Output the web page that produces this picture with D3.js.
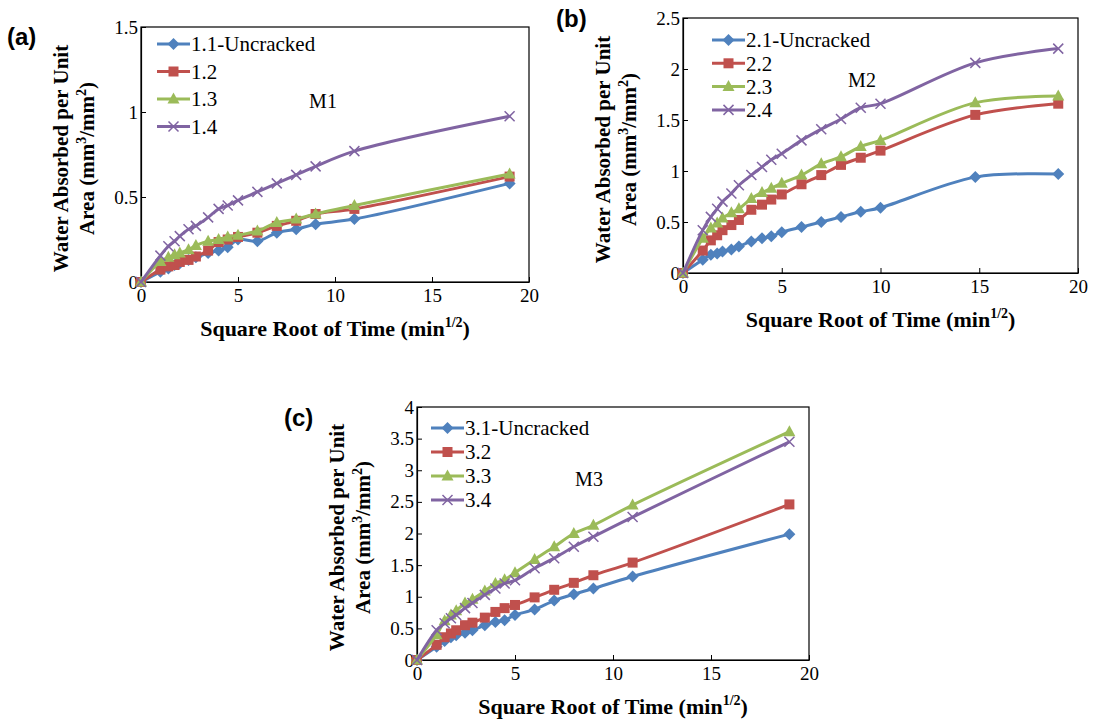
<!DOCTYPE html>
<html><head><meta charset="utf-8">
<script src="https://cdn.jsdelivr.net/npm/d3@7"></script>
<style>
body{margin:0;background:#fff;}
svg{display:block;}
</style></head>
<body>
<svg id="chart" width="1099" height="724"></svg>
<script>
// ---------- data ----------
const xA = [0,1,1.41,1.73,2,2.45,2.83,3.46,4,4.47,5,6,7,8,9,11,19];
const xB = [0,1,1.41,1.73,2,2.45,2.83,3.46,4,4.47,5,6,7,8,9,10,14.8,19];
const xC = [0,1,1.41,1.73,2,2.45,2.83,3.46,4,4.47,5,6,7,8,9,11,19];

const namesA = ["1.1-Uncracked","1.2","1.3","1.4"];
const namesB = ["2.1-Uncracked","2.2","2.3","2.4"];
const namesC = ["3.1-Uncracked","3.2","3.3","3.4"];

const a1 = [0,0.06,0.08,0.10,0.11,0.13,0.145,0.17,0.185,0.205,0.25,0.24,0.29,0.31,0.34,0.37,0.58];
const a2 = [0,0.073,0.092,0.10,0.118,0.13,0.15,0.185,0.235,0.25,0.265,0.29,0.33,0.36,0.40,0.43,0.62];
const a3 = [0,0.12,0.145,0.16,0.17,0.19,0.215,0.24,0.25,0.265,0.275,0.30,0.35,0.37,0.40,0.45,0.635];
const a4 = [0,0.155,0.21,0.24,0.27,0.31,0.33,0.38,0.43,0.45,0.48,0.53,0.58,0.63,0.68,0.77,0.975];

const b1 = [0,0.13,0.18,0.19,0.21,0.23,0.26,0.31,0.34,0.36,0.40,0.45,0.50,0.55,0.60,0.64,0.94,0.97];
const b2 = [0,0.22,0.32,0.37,0.42,0.47,0.52,0.62,0.67,0.72,0.77,0.87,0.96,1.06,1.13,1.20,1.55,1.66];
const b3 = [0,0.34,0.44,0.49,0.54,0.59,0.63,0.73,0.79,0.83,0.88,0.96,1.07,1.14,1.24,1.30,1.67,1.735];
const b4 = [0,0.42,0.55,0.63,0.70,0.78,0.86,0.96,1.04,1.11,1.17,1.30,1.41,1.51,1.62,1.66,2.06,2.20];

const c1 = [0,0.21,0.30,0.36,0.39,0.43,0.47,0.55,0.60,0.63,0.71,0.80,0.94,1.04,1.13,1.32,1.99];
const c2 = [0,0.24,0.36,0.42,0.47,0.55,0.59,0.67,0.76,0.82,0.87,0.99,1.11,1.22,1.34,1.54,2.46];
const c3 = [0,0.40,0.62,0.71,0.78,0.90,0.96,1.09,1.21,1.27,1.38,1.59,1.79,2.00,2.13,2.45,3.61];
const c4 = [0,0.47,0.58,0.66,0.71,0.82,0.90,1.03,1.13,1.21,1.26,1.45,1.61,1.79,1.95,2.26,3.45];

const xTicks = [0,5,10,15,20];
const yTicksA = [0,0.5,1,1.5];
const yTicksB = [0,0.5,1,1.5,2,2.5];
const yTicksC = [0,0.5,1,1.5,2,2.5,3,3.5,4];

const colors = ["#4F81BD","#C0504D","#9BBB59","#8064A2"];
const markers = ["diamond","square","triangle","cross"];

// ---------- drawing ----------
const svg = d3.select("#chart");
const SERIF = "'Liberation Serif','Times New Roman',serif";
const SANS = "'Liberation Sans',Arial,sans-serif";

function drawMarker(g, type, x, y, color){
  if(type==="diamond"){
    g.append("path").attr("d",`M${x},${y-6}L${x+6},${y}L${x},${y+6}L${x-6},${y}Z`).attr("fill",color);
  } else if(type==="square"){
    g.append("rect").attr("x",x-5).attr("y",y-5).attr("width",10).attr("height",10).attr("fill",color);
  } else if(type==="triangle"){
    g.append("path").attr("d",`M${x},${y-6.5}L${x+6},${y+4.5}L${x-6},${y+4.5}Z`).attr("fill",color);
  } else {
    g.append("path").attr("d",`M${x-5},${y-5}L${x+5},${y+5}M${x-5},${y+5}L${x+5},${y-5}`)
      .attr("stroke",color).attr("stroke-width",1.5).attr("fill","none");
  }
}

function panel(cfg){
  const g = svg.append("g");
  const x = d3.scaleLinear().domain([0,20]).range([cfg.l, cfg.r]);
  const y = d3.scaleLinear().domain([0,cfg.ymax]).range([cfg.b, cfg.t]);

  // frame
  g.append("rect").attr("x",cfg.l).attr("y",cfg.t).attr("width",cfg.r-cfg.l).attr("height",cfg.b-cfg.t)
    .attr("fill","none").attr("stroke","#000").attr("stroke-width",1.2);

  const xa = g.append("g").attr("transform",`translate(0,${cfg.b})`)
    .call(d3.axisBottom(x).tickValues(xTicks).tickSizeInner(-5).tickSizeOuter(0).tickPadding(6).tickFormat(d3.format("d")));
  const ya = g.append("g").attr("transform",`translate(${cfg.l},0)`)
    .call(d3.axisLeft(y).tickValues(cfg.yticks).tickSizeInner(-5).tickSizeOuter(0).tickPadding(3).tickFormat(d=>String(d)));
  [xa,ya].forEach(a=>{
    a.select(".domain").attr("stroke","#000").attr("stroke-width",1.2);
    a.selectAll(".tick line").attr("stroke","#000");
    a.selectAll(".tick text").attr("font-family",SERIF).attr("font-size",19).attr("fill","#000");
  });
  xa.selectAll(".tick text").attr("dy","0.75em");

  // series
  const line = d3.line().curve(d3.curveCatmullRom.alpha(0.5)).x(d=>x(d[0])).y(d=>y(d[1]));
  cfg.series.forEach((s,i)=>{
    const pts = cfg.xs.map((xv,j)=>[xv,s[j]]);
    g.append("path").datum(pts).attr("d",line).attr("fill","none")
      .attr("stroke",colors[i]).attr("stroke-width",3);
    const mg = g.append("g");
    pts.forEach(p=>drawMarker(mg, markers[i], x(p[0]), y(p[1]), colors[i]));
  });

  // legend
  cfg.names.forEach((n,i)=>{
    const ly = cfg.legY + i*cfg.legDy;
    const lg = g.append("g");
    lg.append("line").attr("x1",cfg.legX).attr("x2",cfg.legX+33).attr("y1",ly).attr("y2",ly)
      .attr("stroke",colors[i]).attr("stroke-width",3);
    drawMarker(lg, markers[i], cfg.legX+16.5, ly, colors[i]);
    lg.append("text").attr("x",cfg.legX+34).attr("y",ly).attr("dy","0.35em")
      .attr("font-family",SERIF).attr("font-size",21).attr("fill","#000").text(n);
  });

  // material label
  g.append("text").attr("x",cfg.mx).attr("y",cfg.my).attr("dy","0.35em").attr("text-anchor","middle")
    .attr("font-family",SERIF).attr("font-size",20).attr("fill","#000").text(cfg.mlabel);

  // x title
  const xt = g.append("text").attr("x",(cfg.l+cfg.r)/2).attr("y",cfg.b+54).attr("text-anchor","middle")
    .attr("font-family",SERIF).attr("font-size",22).attr("font-weight","bold").attr("fill","#000");
  xt.append("tspan").text("Square Root of Time (min");
  xt.append("tspan").attr("font-size",14).attr("dy",-9).text("1/2");
  xt.append("tspan").attr("dy",9).text(")");

  // y title (two lines)
  const cy = (cfg.t+cfg.b)/2 + 4;
  g.append("text").attr("transform",`translate(${cfg.l-80},${cy}) rotate(-90)`).attr("text-anchor","middle")
    .attr("dy","0.35em").attr("font-family",SERIF).attr("font-size",21).attr("font-weight","bold").attr("fill","#000")
    .text("Water Absorbed per Unit");
  const t2 = g.append("text").attr("transform",`translate(${cfg.l-54},${cy}) rotate(-90)`).attr("text-anchor","middle")
    .attr("font-family",SERIF).attr("font-size",21).attr("font-weight","bold").attr("fill","#000");
  t2.append("tspan").attr("dy","0.35em").text("Area (mm");
  t2.append("tspan").attr("font-size",14).attr("dy",-8).text("3");
  t2.append("tspan").attr("dy",8).text("/mm");
  t2.append("tspan").attr("font-size",14).attr("dy",-8).text("2");
  t2.append("tspan").attr("dy",8).text(")");

  // panel letter
  svg.append("text").attr("x",cfg.px).attr("y",cfg.py).attr("font-family",SANS).attr("font-size",24)
    .attr("font-weight","bold").attr("fill","#000").text(cfg.letter);
}

panel({l:141,r:529,t:27,b:282,ymax:1.5,yticks:yTicksA,xs:xA,series:[a1,a2,a3,a4],names:namesA,
  legX:157,legY:44,legDy:27.5,mx:323,my:101,mlabel:"M1",letter:"(a)",px:7,py:45});
panel({l:683,r:1078,t:18,b:273,ymax:2.5,yticks:yTicksB,xs:xB,series:[b1,b2,b3,b4],names:namesB,
  legX:712,legY:40,legDy:23.3,mx:862,my:80,mlabel:"M2",letter:"(b)",px:556,py:27});
panel({l:417,r:809,t:407,b:660,ymax:4,yticks:yTicksC,xs:xC,series:[c1,c2,c3,c4],names:namesC,
  legX:431,legY:428,legDy:24,mx:589,my:479,mlabel:"M3",letter:"(c)",px:284,py:426});
</script>
</body></html>
